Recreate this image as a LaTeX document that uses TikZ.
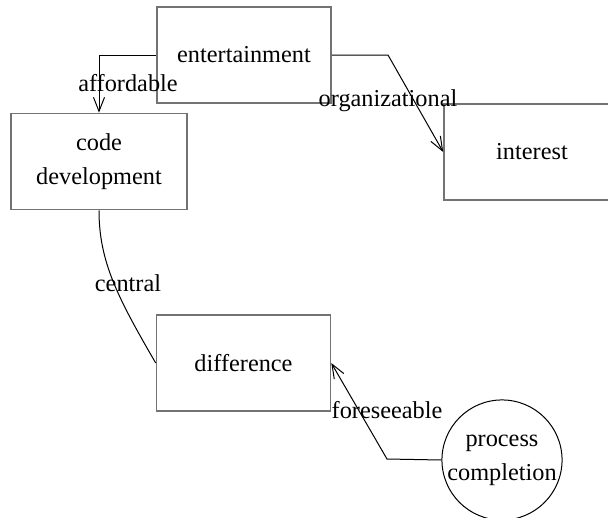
\documentclass[tikz,border=0pt]{standalone}
\usepackage{fontspec}
\setmainfont{Liberation Serif}
\usetikzlibrary{arrows.meta}
\begin{document}
\begin{tikzpicture}[x=1pt,y=-1pt,
  box/.style={draw=black!55,line width=1.6pt,minimum width=174pt,minimum height=96pt,inner sep=0pt,align=center,font=\fontsize{24.3}{34}\selectfont},
  circ/.style={draw=black,line width=1pt,circle,minimum size=114pt,inner sep=0pt,align=center,font=\fontsize{24.3}{34}\selectfont},
  conn/.style={draw=black,line width=1pt},
  arr/.style={conn,-{Straight Barb[length=14pt,width=11pt]}},
  lab/.style={font=\fontsize{24.3}{29}\selectfont,inner sep=0pt}]
\useasboundingbox (0,0) rectangle (608,517);
\clip (0,0) rectangle (608,517);
\node[box] (ent) at (244,55) {entertainment};
\node[box,minimum width=176pt] (code) at (99,161.5) {code\\development};
\node[box,minimum width=176pt] (int) at (532,152) {interest};
\node[box] (diff) at (243.5,363) {difference};
\node[circ] (proc) at (502,460) {process\\completion};
\coordinate (b1) at (388,55);
\coordinate (b2) at (387,459);
\draw[arr] (ent.west) -| (code.north);
\draw[arr] (ent.east) -- (b1) -- (int.west);
\draw[conn] (code.south) .. controls (99,262) and (118,298) .. (diff.west);
\draw[arr] (proc.west) -- (b2) -- (diff.east);
\node[lab] (l1) at (128,83) {affordable};
\node[lab] (l2) at (388,101) {organizational};
\node[lab] (l3) at (128,283) {central};
\node[lab] (l4) at (387,410) {foreseeable};
\end{tikzpicture}
\end{document}
